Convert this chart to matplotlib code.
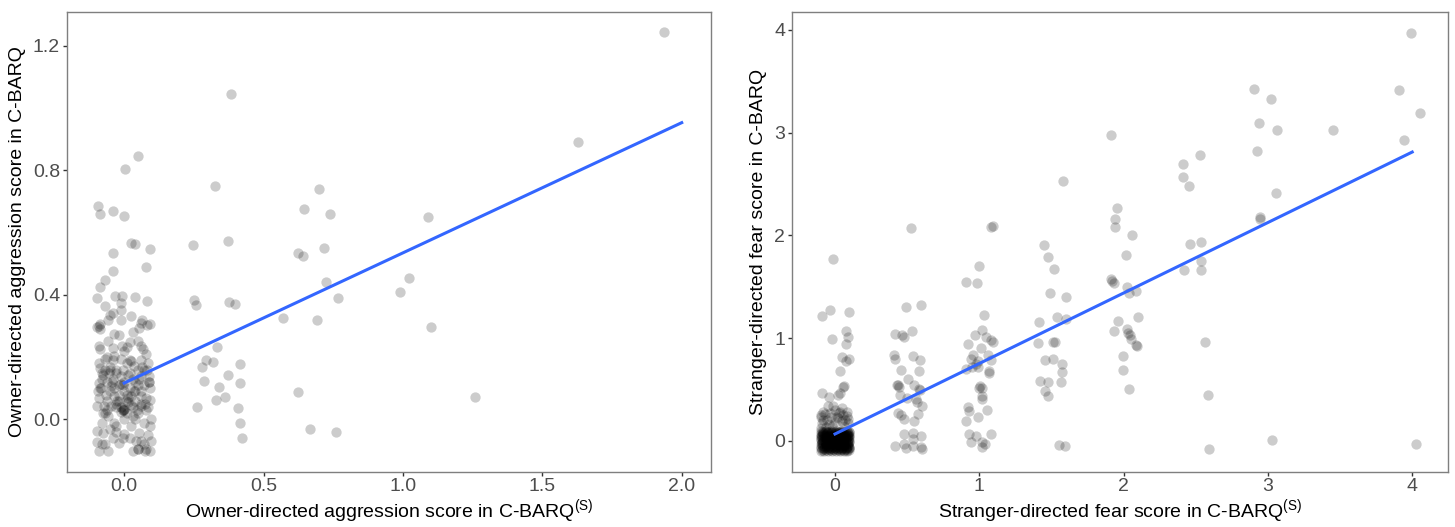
import numpy as np
import matplotlib
matplotlib.use("Agg")
import matplotlib.pyplot as plt

plt.rcParams["font.family"] = ["Liberation Sans", "DejaVu Sans"]
plt.rcParams["mathtext.fontset"] = "custom"
plt.rcParams["mathtext.rm"] = "Liberation Sans"

# ---- left panel: owner-directed aggression (jittered positions as plotted) ----
owner_x = [
    # outside the cluster at 0
    1.935, 0.384, 1.627, 0.325, 0.70, 0.645, 0.74, 1.09, 0.247, 0.372, 0.625, 0.640,
    0.716, 1.02, 0.724, 0.988, 0.252, 0.259, 0.375, 0.396, 0.766, 0.571, 0.692, 1.10,
    1.258, 0.332, 0.294, 0.32, 0.28, 0.417, 0.372, 0.288, 0.414, 0.341, 0.36, 0.33,
    0.624, 0.263, 0.408, 0.414, 0.668, 0.759, 0.423,
    # cluster, upper part
    0.05, 0.003, -0.093, -0.085, -0.041, -0.002, 0.024, 0.04, 0.094, -0.041, 0.08,
    -0.041, -0.07, -0.085,
    # cluster, lower part
    -0.097, -0.070, -0.032, -0.007, -0.011, 0.039, 0.081, -0.041, -0.049, -0.011,
    -0.059, -0.013, 0.025, 0.091, 0.082, -0.097, -0.088, 0.033, 0.055, -0.035,
    -0.092, -0.085, -0.059, -0.041, -0.007, 0.010, 0.051, 0.061, 0.067, -0.070,
    -0.038, -0.013, 0.025, 0.037, 0.087, 0.082, -0.088, -0.076, -0.049, -0.029,
    -0.005, 0.013, 0.049, 0.059, -0.092, -0.082, -0.047, -0.035, -0.097, -0.073,
    -0.005, 0.023, 0.061, 0.091, 0.094, 0.061, 0.025, -0.047, -0.059, -0.035,
    -0.097, -0.076, -0.029, -0.001, 0.025, 0.055, 0.091, 0.061, -0.097, -0.070,
    -0.059, -0.092, -0.017, -0.005, 0.031, 0.049, 0.073, 0.091, 0.043, 0.097,
    -0.08, -0.06, -0.04, -0.02, 0.0, 0.02, 0.04, 0.07, -0.09, -0.06,
    -0.03, -0.01, 0.0, 0.01, 0.03, 0.05, 0.08, -0.07, -0.05, -0.02,
    0.03, 0.06, 0.09, -0.08, -0.05, 0.0, 0.04, 0.07, -0.03, 0.01,
    0.06, -0.09, -0.06, 0.08, 0.02, -0.02, -0.09, -0.085, 0.06, 0.065,
    0.0, -0.04, 0.04, -0.01, 0.015, 0.095, 0.085, -0.04, 0.02, 0.07,
    -0.08, 0.05, 0.08,
    # extra density in the dark core
    -0.085, -0.065, -0.045, -0.025, -0.005, 0.015, 0.035, 0.055, 0.075, 0.09,
    -0.075, -0.055, -0.03, -0.01, 0.005, 0.03, 0.05, 0.065, 0.085, -0.095,
    -0.07, -0.035, 0.0, 0.02, 0.045, 0.08, -0.06, -0.02, 0.01, 0.06,
    -0.005, 0.0, -0.01, 0.07, -0.05, 0.04, -0.08, 0.09, -0.03, 0.02,
]
owner_y = [
    1.244, 1.046, 0.891, 0.751, 0.739, 0.676, 0.660, 0.649, 0.560, 0.574, 0.533, 0.526,
    0.551, 0.455, 0.442, 0.408, 0.385, 0.366, 0.377, 0.370, 0.390, 0.327, 0.318, 0.296,
    0.071, 0.232, 0.192, 0.183, 0.169, 0.178, 0.143, 0.123, 0.118, 0.103, 0.073, 0.063,
    0.089, 0.040, 0.037, -0.010, -0.030, -0.040, -0.060,
    0.847, 0.804, 0.685, 0.660, 0.670, 0.653, 0.568, 0.562, 0.546, 0.534, 0.488,
    0.477, 0.447, 0.426,
    0.389, 0.364, 0.396, 0.396, 0.374, 0.394, 0.379, 0.342, 0.337, 0.353,
    0.321, 0.321, 0.332, 0.307, 0.304, 0.296, 0.291, 0.281, 0.294, 0.273,
    0.235, 0.225, 0.251, 0.230, 0.235, 0.233, 0.251, 0.235, 0.227, 0.193,
    0.203, 0.195, 0.187, 0.171, 0.180, 0.160, 0.166, 0.144, 0.160, 0.150,
    0.160, 0.144, 0.160, 0.139, 0.118, 0.102, 0.107, 0.075, 0.043, 0.043,
    0.032, 0.075, 0.075, 0.102, 0.064, 0.043, 0.048, 0.043, 0.011, -0.011,
    -0.037, -0.043, -0.021, -0.048, -0.021, -0.043, -0.021, -0.070, -0.073, -0.080,
    -0.102, -0.102, -0.075, -0.059, -0.102, -0.096, -0.102, -0.102, -0.070, -0.070,
    0.13, 0.12, 0.13, 0.11, 0.09, 0.10, 0.12, 0.11, 0.07, 0.06,
    0.05, 0.04, 0.03, 0.02, 0.04, 0.02, 0.03, 0.02, 0.09, 0.08,
    0.13, 0.09, 0.14, -0.01, -0.03, 0.0, 0.0, -0.01, 0.16, 0.18,
    0.19, 0.18, 0.20, 0.21, 0.25, 0.27, 0.30, 0.305, 0.31, 0.32,
    0.22, 0.19, 0.06, 0.115, 0.055, 0.0, -0.05, -0.06, -0.06, -0.08,
    -0.08, -0.095, -0.095,
    0.10, 0.08, 0.12, 0.06, 0.11, 0.07, 0.09, 0.13, 0.05, 0.12,
    0.02, 0.15, 0.04, 0.14, 0.06, 0.01, 0.11, 0.17, 0.04, 0.09,
    0.16, 0.10, 0.12, 0.15, 0.03, 0.07, 0.03, 0.06, 0.08, 0.05,
    0.03, 0.035, 0.025, 0.16, 0.17, 0.09, 0.15, 0.12, -0.04, 0.19,
]
owner_fit_x = [0.0, 2.0]
owner_fit_y = [0.117, 0.953]

# ---- right panel: stranger-directed fear (jittered positions as plotted) ----
stranger_x = [
    # column at 0, above the dense block
    -0.016, -0.038, -0.092, 0.098, 0.073, 0.089, -0.022, 0.079, 0.047, 0.073,
    0.098, 0.035, 0.06, -0.092, 0.032, 0.023, 0.058, -0.039, -0.012, -0.046,
    -0.081, -0.1, -0.035, 0.035, 0.058, -0.058, 0.0, 0.069, -0.092, 0.092,
    -0.1, 0.012, 0.046, -0.07, 0.02, 0.08, -0.02, 0.05, -0.06, 0.09,
    -0.085, 0.03, -0.04, 0.065, 0.0, -0.095, 0.085, -0.025,
    # dense block at 0
    -0.09, -0.07, -0.05, -0.02, 0.0, 0.03, 0.05, 0.08, 0.095,
    -0.1, -0.08, -0.06, -0.035, -0.01, 0.015, 0.04, 0.06, 0.085,
    -0.095, -0.075, -0.045, -0.025, 0.005, 0.025, 0.05, 0.07, 0.09, 0.1,
    -0.085, -0.065, -0.04, -0.015, 0.01, 0.035, 0.055, 0.075, 0.095,
    -0.1, -0.08, -0.055, -0.03, -0.005, 0.02, 0.045, 0.065, 0.09,
    -0.09, -0.07, -0.045, -0.02, 0.0, 0.03, 0.05, 0.08, 0.1,
    -0.095, -0.06, -0.035, -0.01, 0.015, 0.04, 0.06, 0.085,
    -0.085, -0.065, -0.04, -0.015, 0.01, 0.035, 0.07, 0.09,
    -0.1, -0.075, -0.05, -0.025, 0.0, 0.025, 0.05, 0.075, 0.095,
    -0.09, -0.065, -0.035, -0.01, 0.02, 0.045, 0.065, 0.085, 0.1,
    -0.08, -0.055, -0.03, 0.005, 0.03, 0.06, 0.09, -0.095, -0.07, -0.04,
    -0.01, 0.02, 0.055, 0.08, -0.085, -0.05, -0.02, 0.01, 0.04, 0.07,
    0.1, -0.09, -0.06, -0.025, 0.0, 0.035, 0.065, 0.09, -0.075, -0.045,
    -0.015, 0.015, 0.045, 0.075, -0.1, -0.065, -0.03, 0.005, 0.04, 0.08,
    -0.092, -0.068, -0.042, -0.018, 0.008, 0.032, 0.058, 0.082, 0.098,
    -0.098, -0.072, -0.048, -0.022, 0.002, 0.028, 0.052, 0.078, 0.092,
    -0.088, -0.062, -0.038, -0.012, 0.012, 0.038, 0.062, 0.088,
    -0.094, -0.066, -0.044, -0.016, 0.006, 0.034, 0.056, 0.084, 0.1,
    -0.082, -0.058, -0.028, 0.0, 0.024, 0.048, 0.072, 0.096,
    -0.096, -0.074, -0.046, -0.02, 0.01, 0.036, 0.064, 0.086,
    -0.087, -0.057, -0.033, -0.007, 0.017, 0.043, 0.067, 0.091,
    -0.093, -0.063, -0.037, -0.013, 0.013, 0.037, 0.063, 0.093,
    -0.083, -0.053, -0.027, 0.003, 0.027, 0.053, 0.077, 0.097,
    # column at 0.5
    0.525, 0.494, 0.595, 0.535, 0.415, 0.465, 0.478, 0.411, 0.415, 0.541,
    0.589, 0.459, 0.579, 0.506, 0.43, 0.443, 0.547, 0.579, 0.453, 0.563,
    0.601, 0.437, 0.459, 0.573, 0.478, 0.547, 0.478, 0.538, 0.595, 0.541,
    0.415, 0.478, 0.491, 0.595, 0.601, 0.541, 0.44, 0.59, 0.50, 0.57,
    # column at 1
    1.0, 0.908, 0.984, 1.032, 1.022, 0.968, 1.044, 1.079, 1.092, 0.921,
    1.013, 0.959, 0.943, 0.991, 0.975, 1.063, 1.079, 0.908, 0.991, 1.07,
    1.07, 1.006, 1.022, 1.022, 1.016, 0.921, 0.927, 1.054, 0.911, 0.991,
    1.082, 0.927, 0.975, 0.943, 1.016, 1.038, 1.016, 1.082, 1.098, 0.95,
    1.0,
    # column at 1.5
    1.449, 1.475, 1.519, 1.487, 1.598, 1.541, 1.598, 1.411, 1.408, 1.509,
    1.528, 1.456, 1.509, 1.576, 1.576, 1.424, 1.475, 1.566, 1.456, 1.475,
    1.551, 1.592, 1.582,
    # column at 2
    1.915, 1.956, 1.94, 1.94, 2.057, 2.019, 1.915, 1.93, 1.92, 2.025,
    2.038, 2.085, 2.101, 1.962, 2.022, 2.028, 2.041, 2.051, 1.934, 2.085,
    2.09, 1.997, 1.997, 2.035,
    # column at 2.5
    2.528, 2.411, 2.411, 2.456, 2.462, 2.538, 2.535, 2.535, 2.418, 2.563,
    2.585, 2.595,
    # columns at 3, 3.5 and 4
    2.902, 3.019, 2.94, 3.066, 2.924, 3.057, 2.943, 2.946, 3.025, 3.453,
    3.99, 3.905, 4.051, 3.946, 4.028,
]
stranger_y = [
    1.771, 1.273, 1.217, 1.256, 1.068, 1.012, 0.996, 0.947, 0.817, 0.775,
    0.794, 0.677, 0.534, 0.469, 0.469, 0.448, 0.529, 0.425, 0.341, 0.341,
    0.285, 0.253, 0.269, 0.285, 0.253, 0.204, 0.188, 0.204, 0.172, 0.172,
    0.236, 0.236, 0.318, 0.26, 0.22, 0.24, 0.15, 0.19, 0.14, 0.21,
    0.20, 0.27, 0.17, 0.15, 0.30, 0.13, 0.28, 0.23,
    0.09, 0.09, 0.09, 0.09, 0.09, 0.09, 0.09, 0.09, 0.09,
    0.07, 0.07, 0.07, 0.07, 0.07, 0.07, 0.07, 0.07, 0.07,
    0.05, 0.05, 0.05, 0.05, 0.05, 0.05, 0.05, 0.05, 0.05, 0.05,
    0.03, 0.03, 0.03, 0.03, 0.03, 0.03, 0.03, 0.03, 0.03,
    0.01, 0.01, 0.01, 0.01, 0.01, 0.01, 0.01, 0.01, 0.01,
    -0.01, -0.01, -0.01, -0.01, -0.01, -0.01, -0.01, -0.01, -0.01,
    -0.03, -0.03, -0.03, -0.03, -0.03, -0.03, -0.03, -0.03,
    -0.05, -0.05, -0.05, -0.05, -0.05, -0.05, -0.05, -0.05,
    -0.07, -0.07, -0.07, -0.07, -0.07, -0.07, -0.07, -0.07, -0.07,
    -0.09, -0.09, -0.09, -0.09, -0.09, -0.09, -0.09, -0.09, -0.09,
    0.08, 0.08, 0.08, 0.08, 0.08, 0.08, 0.08, 0.04, 0.04, 0.04,
    0.04, 0.04, 0.04, 0.04, 0.0, 0.0, 0.0, 0.0, 0.0, 0.0,
    0.0, -0.04, -0.04, -0.04, -0.04, -0.04, -0.04, -0.04, -0.08, -0.08,
    -0.08, -0.08, -0.08, -0.08, 0.1, 0.1, 0.1, 0.1, 0.1, 0.1,
    0.06, 0.06, 0.06, 0.06, 0.06, 0.06, 0.06, 0.06, 0.06,
    0.02, 0.02, 0.02, 0.02, 0.02, 0.02, 0.02, 0.02, 0.02,
    -0.02, -0.02, -0.02, -0.02, -0.02, -0.02, -0.02, -0.02,
    -0.06, -0.06, -0.06, -0.06, -0.06, -0.06, -0.06, -0.06, -0.06,
    0.085, 0.085, 0.085, 0.085, 0.085, 0.085, 0.085, 0.085,
    -0.095, -0.095, -0.095, -0.095, -0.095, -0.095, -0.095, -0.095,
    0.045, 0.045, 0.045, 0.045, 0.045, 0.045, 0.045, 0.045,
    -0.015, -0.015, -0.015, -0.015, -0.015, -0.015, -0.015, -0.015,
    -0.065, -0.065, -0.065, -0.065, -0.065, -0.065, -0.065, -0.065,
    2.073, 1.305, 1.321, 1.071, 1.042, 1.028, 1.015, 0.840, 0.801, 0.823,
    0.784, 0.687, 0.677, 0.599, 0.540, 0.524, 0.540, 0.508, 0.443, 0.410,
    0.345, 0.273, 0.254, 0.260, 0.215, 0.199, 0.068, 0.078, 0.052, 0.020,
    -0.052, -0.029, -0.072, -0.062, -0.078, -0.046, 0.54, 0.50, 0.42, 0.38,
    1.702, 1.549, 1.533, 1.230, 1.084, 1.028, 1.012, 0.980, 0.963, 0.947,
    0.905, 0.833, 0.801, 0.775, 0.752, 0.833, 0.784, 0.703, 0.719, 0.677,
    0.664, 0.534, 0.514, 0.436, 0.404, 0.329, 0.296, 0.306, 0.199, 0.238,
    0.065, 0.068, 0.052, -0.013, -0.013, -0.029, -0.062, 2.083, 2.096, 0.72,
    0.52,
    1.907, 1.790, 1.670, 1.445, 1.406, 1.207, 1.185, 1.155, 0.957, 0.963,
    0.963, 0.784, 0.794, 0.752, 0.670, 0.583, 0.573, 0.573, 0.488, 0.433,
    -0.039, -0.049, 2.532,
    2.975, 2.272, 2.161, 2.086, 2.008, 1.806, 1.575, 1.533, 1.56, 1.500,
    1.445, 1.458, 1.204, 1.165, 1.087, 1.051, 1.028, 0.989, 1.068, 0.931,
    0.925, 0.823, 0.693, 0.508,
    2.779, 2.695, 2.571, 2.480, 1.917, 1.940, 1.751, 1.663, 1.660, 0.960,
    0.449, -0.081,
    3.430, 3.333, 3.095, 3.030, 2.822, 2.418, 2.184, 2.161, 0.010, 3.027,
    3.967, 3.417, 3.190, 2.929, -0.026,
]
stranger_fit_x = [0.0, 4.0]
stranger_fit_y = [0.068, 2.812]

owner_ticks_x = [0.0, 0.5, 1.0, 1.5, 2.0]
owner_ticks_y = [0.0, 0.4, 0.8, 1.2]
stranger_ticks = [0, 1, 2, 3, 4]

W, H = 1455, 527
fig = plt.figure(figsize=(W / 100, H / 100), dpi=100)
ax1 = fig.add_axes([67 / W, 55.5 / H, 644 / W, 459.1 / H])
ax2 = fig.add_axes([792 / W, 55.5 / H, 656 / W, 459.1 / H])


def style(ax):
    for sp in ax.spines.values():
        sp.set_color("#7f7f7f")
        sp.set_linewidth(1.0)
    ax.tick_params(direction="out", length=3, width=1, color="#333333",
                   labelcolor="#4d4d4d", labelsize=14, pad=2)
    # x title anchored by its bottom, just above the figure edge
    ax.xaxis.label.set_va("bottom")
    ax.xaxis.set_label_coords(0.5, -0.1185)


ax1.scatter(owner_x, owner_y, s=55, color="black", alpha=0.2, linewidths=0, zorder=2)
ax1.plot(owner_fit_x, owner_fit_y, color="#3366ff", lw=2.2, zorder=3)
ax1.set_xlim(-0.205, 2.105)
ax1.set_ylim(-0.167, 1.307)
ax1.set_xticks(owner_ticks_x)
ax1.set_xticklabels([f"{v:.1f}" for v in owner_ticks_x])
ax1.set_yticks(owner_ticks_y)
ax1.set_yticklabels([f"{v:.1f}" for v in owner_ticks_y])
ax1.set_xlabel(r"Owner-directed aggression score in C-BARQ$^{\mathrm{(S)}}$", fontsize=14)
ax1.set_ylabel("Owner-directed aggression score in C-BARQ", fontsize=14, labelpad=5)
style(ax1)

ax2.scatter(stranger_x, stranger_y, s=55, color="black", alpha=0.2, linewidths=0, zorder=2)
ax2.plot(stranger_fit_x, stranger_fit_y, color="#3366ff", lw=2.2, zorder=3)
ax2.set_xlim(-0.298, 4.248)
ax2.set_ylim(-0.297, 4.171)
ax2.set_xticks(stranger_ticks)
ax2.set_yticks(stranger_ticks)
ax2.set_xlabel(r"Stranger-directed fear score in C-BARQ$^{\mathrm{(S)}}$", fontsize=14)
ax2.set_ylabel("Stranger-directed fear score in C-BARQ", fontsize=14, labelpad=5)
style(ax2)

fig.savefig("out.png", dpi=100)
